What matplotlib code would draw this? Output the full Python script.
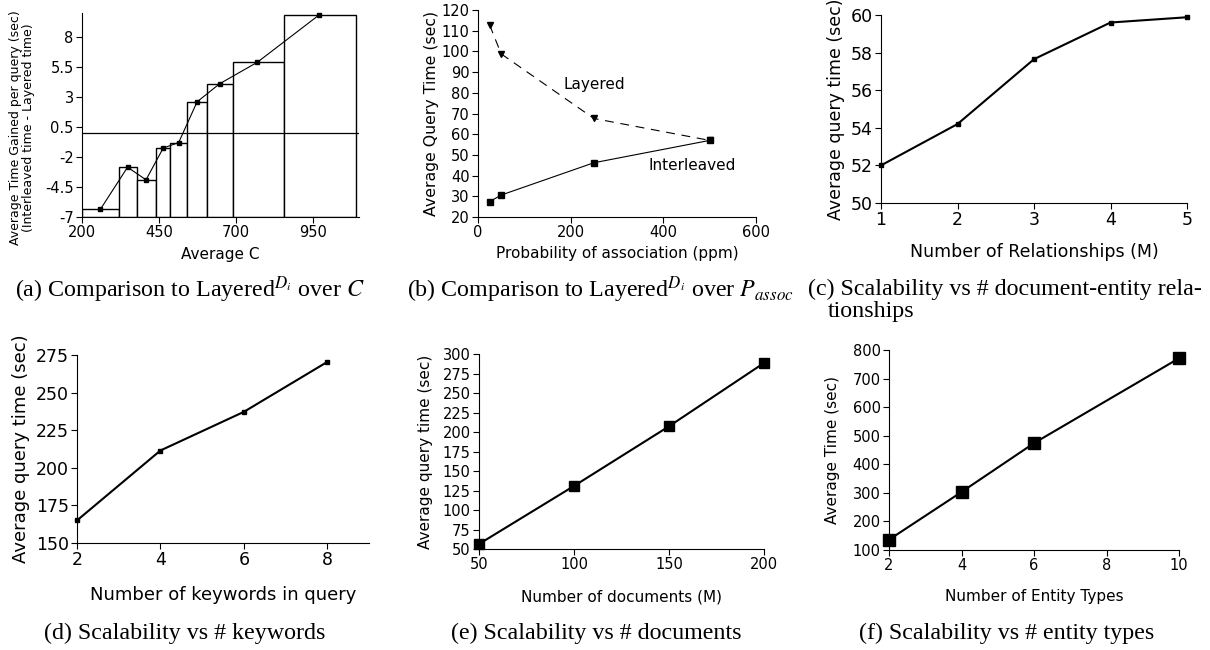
import matplotlib
matplotlib.use("Agg")
import matplotlib.pyplot as plt
import numpy as np

plt.rcParams["font.family"] = ["DejaVu Sans"]
plt.rcParams["mathtext.fontset"] = "stix"

W, H = 1210, 650

# (a) time gained vs average C
a_edges = [200, 320, 380, 440, 485, 540, 605, 690, 855, 1090]
a_x = [260, 348, 408, 464, 514, 574, 647, 770, 971]
a_y = [-6.35, -2.85, -3.9, -1.25, -0.8, 2.6, 4.1, 5.9, 9.85]
a_yticks = [-7, -4.5, -2, 0.5, 3, 5.5, 8]
a_yticklabels = ["-7", "-4.5", "-2", "0.5", "3", "5.5", "8"]

# (b) query time vs probability of association
b_x = [25, 50, 250, 500]
b_layered = [112.8, 98.8, 67.6, 57.0]
b_interleaved = [27.4, 30.6, 46.2, 57.0]

# (c) relationships
c_x = [1, 2, 3, 4, 5]
c_y = [52.0, 54.2, 57.65, 59.6, 59.88]

# (d) keywords
d_x = [2, 4, 6, 8]
d_y = [165, 211.5, 237.2, 270.4]

# (e) documents
e_x = [50, 100, 150, 200]
e_y = [56.4, 130.8, 207.3, 288.5]

# (f) entity types
f_x = [2, 4, 6, 10]
f_y = [136, 303, 474, 771]


def box(l, t, r, b):
    return [l / W, 1 - b / H, (r - l) / W, (b - t) / H]


def style(ax, ts):
    for s in ("top", "right"):
        ax.spines[s].set_visible(False)
    ax.tick_params(direction="out", length=4, width=0.8, labelsize=ts, pad=2)


def caption(x, y, s, ha="center"):
    fig.text(x / W, 1 - y / H, s, ha=ha, va="center", fontsize=17.3,
             family="Liberation Serif")


fig = plt.figure(figsize=(W / 100, H / 100), dpi=100)

# (a)
ax = fig.add_axes(box(82, 13, 359, 217))
lefts = np.array(a_edges[:-1])
widths = np.diff(a_edges)
tops = np.array(a_y)
ax.bar(lefts, tops + 7, bottom=-7, width=widths, align="edge",
       facecolor="white", edgecolor="black", linewidth=1.0)
ax.axhline(0, color="black", linewidth=0.9)
ax.plot(a_x, a_y, color="black", linewidth=0.8, marker="s", markersize=3.5,
        clip_on=False)
ax.set_xlim(200, 1100)
ax.set_ylim(-7, 10)
ax.set_xticks([200, 450, 700, 950])
ax.set_yticks(a_yticks)
ax.set_yticklabels(a_yticklabels)
style(ax, 10.5)
ax.set_xlabel("Average C", fontsize=11, labelpad=5)
ax.set_ylabel("Average Time Gained per query (sec)\n(Interleaved time - Layered time)",
              fontsize=9, labelpad=7, linespacing=1.0)
ax.yaxis.label.set_y(0.44)

# (b)
ax = fig.add_axes(box(478, 10, 756, 217))
ax.plot(b_x, b_layered, color="black", linewidth=0.8, linestyle=(0, (8, 6)),
        marker="v", markersize=4.5, clip_on=False)
ax.plot(b_x, b_interleaved, color="black", linewidth=0.8, marker="s",
        markersize=4.5, clip_on=False)
ax.text(250, 84, "Layered", fontsize=11, ha="center", va="center")
ax.text(462, 45, "Interleaved", fontsize=11, ha="center", va="center")
ax.set_xlim(0, 600)
ax.set_ylim(20, 120)
ax.set_xticks([0, 200, 400, 600])
ax.set_yticks(range(20, 121, 10))
style(ax, 10.5)
ax.set_xlabel("Probability of association (ppm)", fontsize=11, labelpad=4)
ax.set_ylabel("Average Query Time (sec)", fontsize=11.3, labelpad=2)

# (c)
ax = fig.add_axes(box(881, 15, 1187, 203))
ax.plot(c_x, c_y, color="black", linewidth=1.5, marker="s", markersize=3.5,
        clip_on=False)
ax.set_xlim(1, 5)
ax.set_ylim(50, 60)
ax.set_xticks(c_x)
ax.set_yticks(range(50, 61, 2))
style(ax, 12.5)
ax.set_xlabel("Number of Relationships (M)", fontsize=12.5, labelpad=10)
ax.set_ylabel("Average query time (sec)", fontsize=12.5, labelpad=4)

# (d)
ax = fig.add_axes(box(77, 355, 369, 543))
ax.plot(d_x, d_y, color="black", linewidth=1.5, marker="s", markersize=3.5,
        clip_on=False)
ax.set_xlim(2, 9)
ax.set_ylim(150, 275)
ax.set_xticks(d_x)
ax.set_yticks(range(150, 276, 25))
style(ax, 12.5)
ax.set_xlabel("Number of keywords in query", fontsize=13, labelpad=12)
ax.set_ylabel("Average query time (sec)", fontsize=13, labelpad=4)

# (e)
ax = fig.add_axes(box(479, 354, 764, 549))
ax.plot(e_x, e_y, color="black", linewidth=1.5, marker="s", markersize=7,
        clip_on=False)
ax.set_xlim(50, 200)
ax.set_ylim(50, 300)
ax.set_xticks(e_x)
ax.set_yticks(range(50, 301, 25))
style(ax, 10.5)
ax.set_xlabel("Number of documents (M)", fontsize=11, labelpad=12)
ax.set_ylabel("Average query time (sec)", fontsize=11, labelpad=7)

# (f)
ax = fig.add_axes(box(889, 350, 1179, 550))
ax.plot(f_x, f_y, color="black", linewidth=1.5, marker="s", markersize=8,
        clip_on=False)
ax.set_xlim(2, 10)
ax.set_ylim(100, 800)
ax.set_xticks([2, 4, 6, 8, 10])
ax.set_yticks(range(100, 801, 100))
style(ax, 10.5)
ax.set_xlabel("Number of Entity Types", fontsize=11, labelpad=11)
ax.set_ylabel("Average Time (sec)", fontsize=11, labelpad=9)

caption(190, 290, r"(a) Comparison to Layered$^{D_i}$ over $C$")
caption(600, 290, r"(b) Comparison to Layered$^{D_i}$ over $P_{assoc}$")
caption(808, 289, "(c) Scalability vs # document-entity rela-", ha="left")
caption(828, 312, "tionships", ha="left")
caption(185, 633, "(d) Scalability vs # keywords")
caption(596, 633, "(e) Scalability vs # documents")
caption(1007, 633, "(f) Scalability vs # entity types")

fig.savefig("out.png", dpi=100)
